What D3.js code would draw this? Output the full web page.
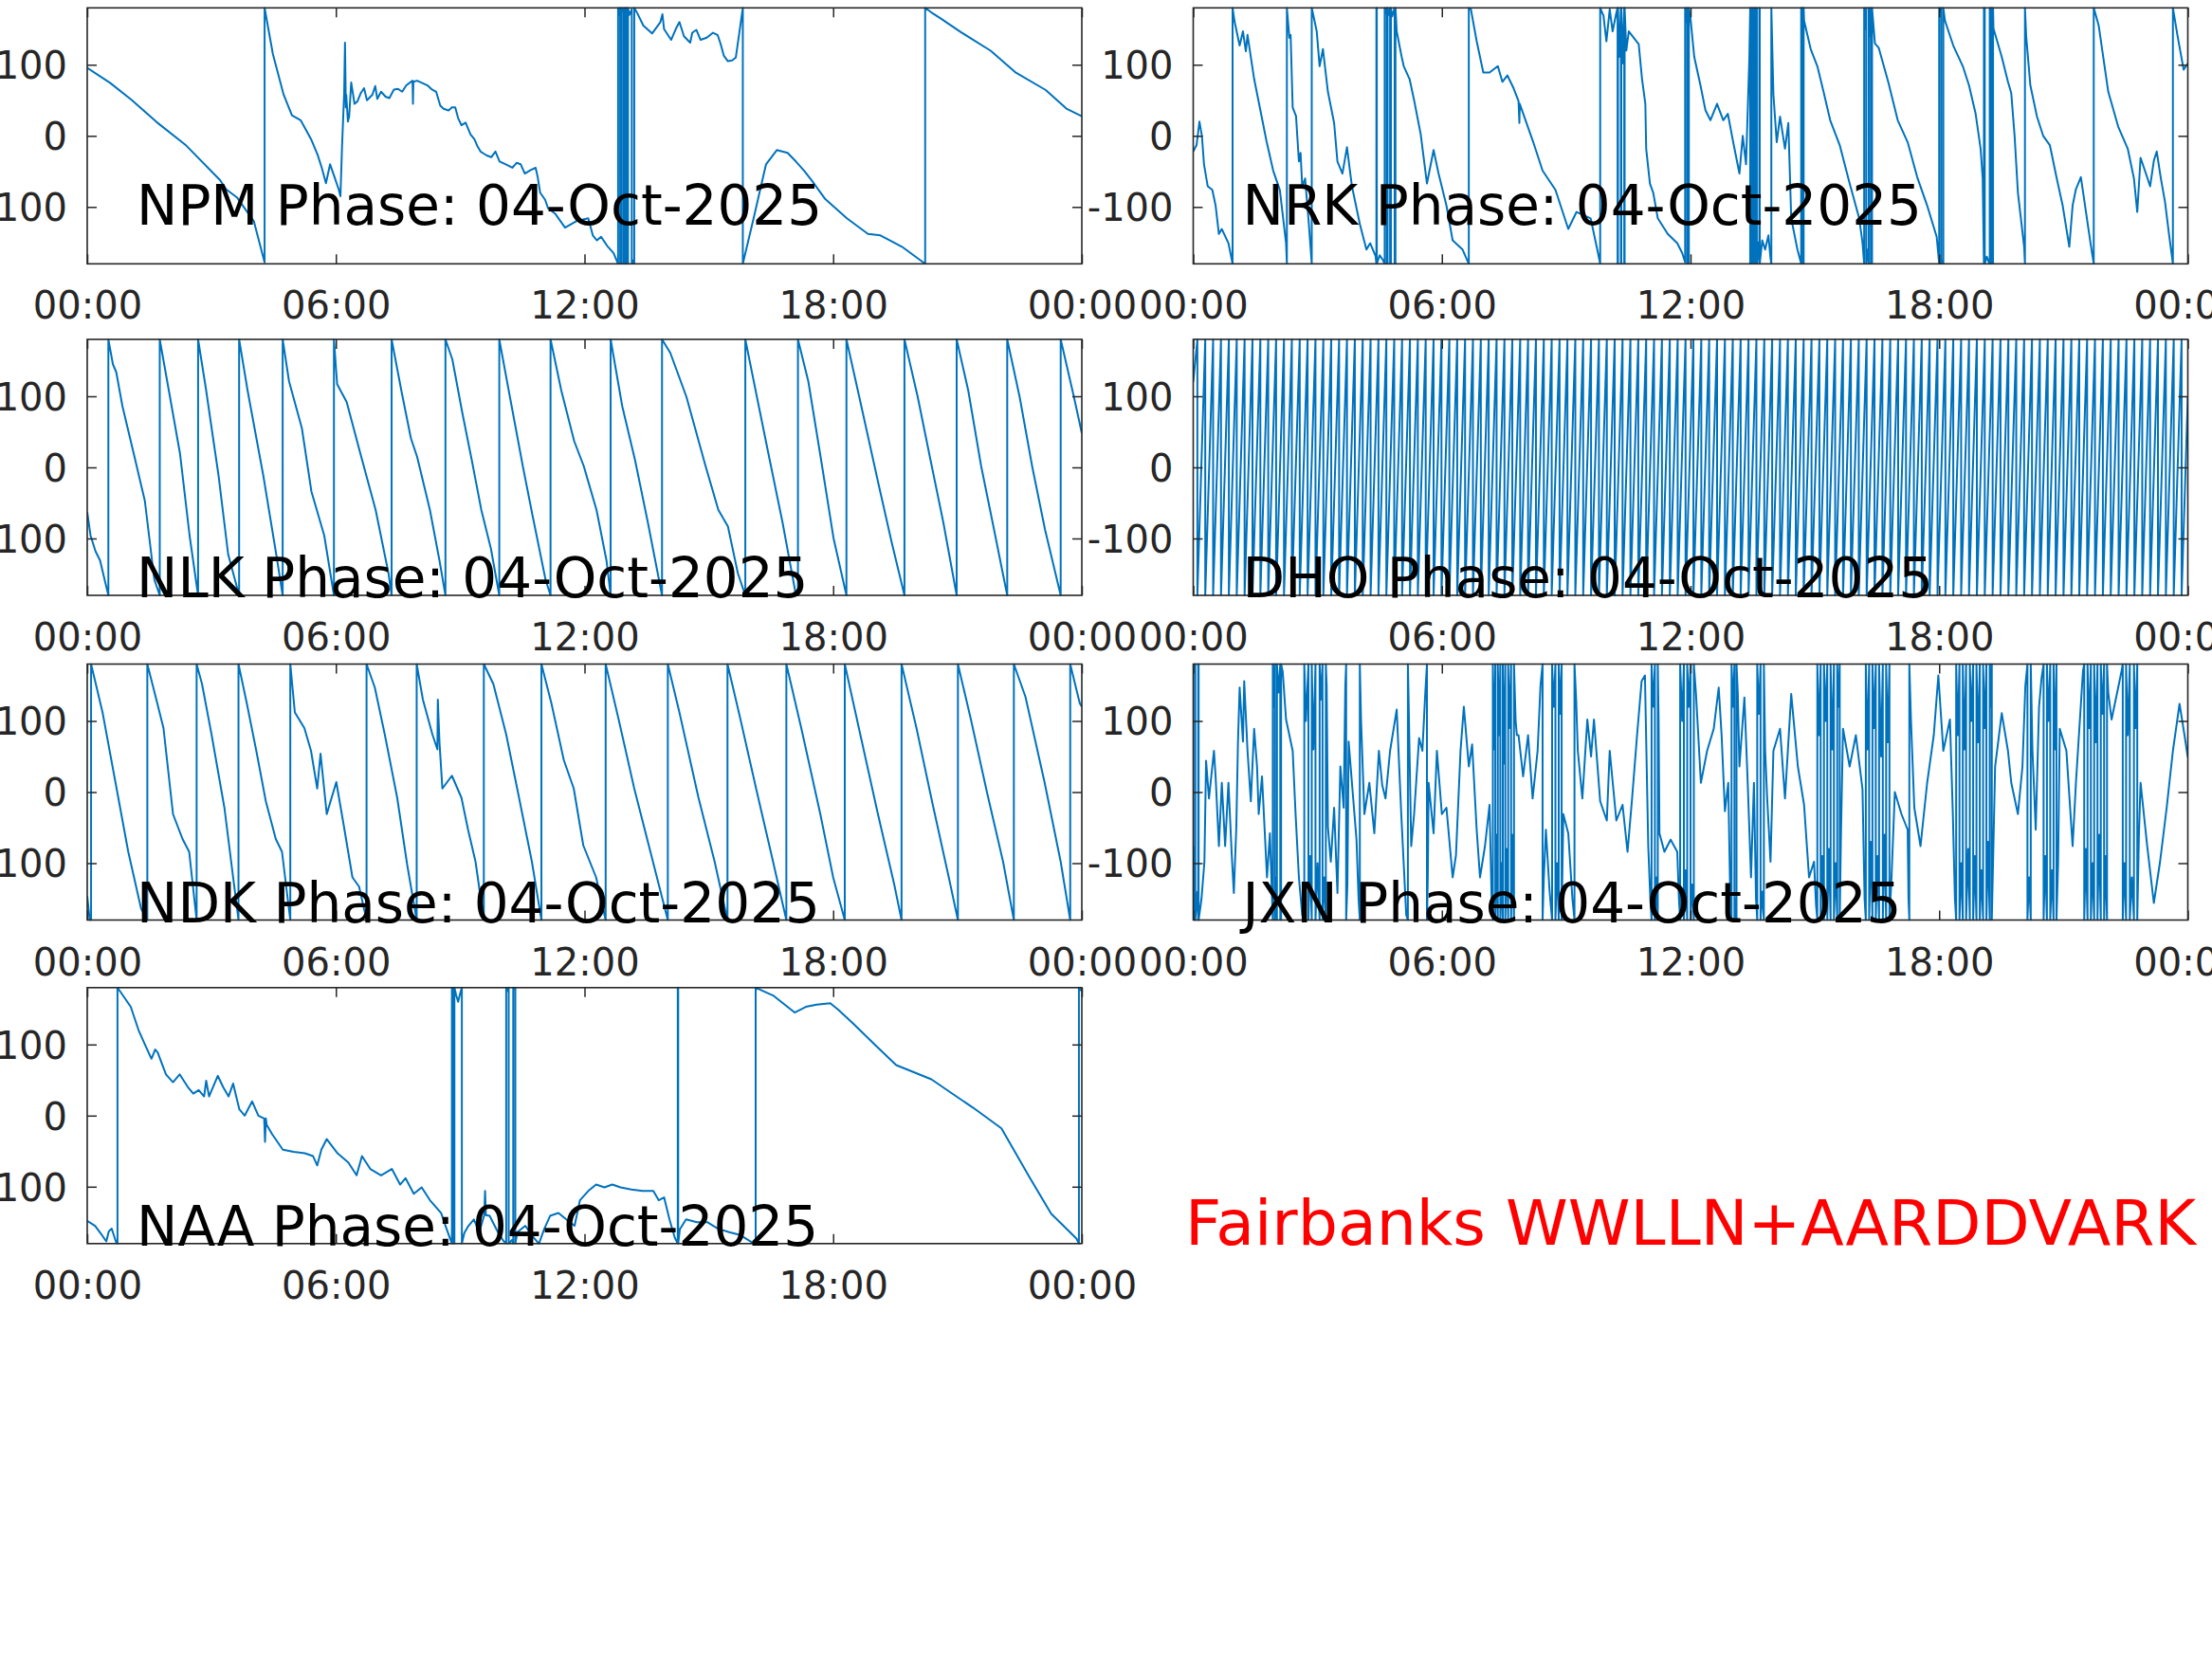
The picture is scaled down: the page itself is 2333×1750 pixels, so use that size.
<!DOCTYPE html>
<html><head><meta charset="utf-8">
<script src="https://cdn.jsdelivr.net/npm/d3@7"></script>
<style>
body{margin:0;background:#fff}
svg{display:block}
text{font-family:"DejaVu Sans",sans-serif}
</style></head>
<body><svg id="chart" width="2333" height="1750"></svg>
<script>
// ---------------- data ----------------
const xTickHours = [0, 6, 12, 18, 24];
const xTickLabels = ["00:00", "06:00", "12:00", "18:00", "00:00"];
const yTickValues = [-100, 0, 100];
const yTickLabels = ["-100", "0", "100"];
const dateLabel = "04-Oct-2025";
const footerText = "Fairbanks WWLLN+AARDDVARK";

// [hour, phase (deg)]
const NPM = [[0,95.5],[0.55,74.6],[1.06,51],[1.67,19.6],[2.39,-13.7],[3.2,-62],[3.36,-75.6],[3.62,-87],[4.02,-120],[4.28,-178],[4.28,180],
[4.48,115],[4.74,57.8],[4.94,28.8],[5.15,22],[5.4,-4.5],[5.56,-26.7],[5.66,-45],[5.76,-66.7],[5.86,-40],[5.95,-55],[6.07,-75.6],[6.11,-84.9],[6.15,-13],[6.2,60],[6.22,131],[6.24,40],[6.25,57.8],[6.29,20],[6.32,27],[6.37,75],[6.45,45],[6.52,48.5],[6.6,60],[6.68,67],[6.75,50],[6.88,57.8],[6.95,70],[7.0,52],[7.09,62],[7.2,55],[7.29,53],[7.4,65],[7.5,66],[7.6,62],[7.7,71],[7.85,77.6],[7.86,45],[7.87,76],[7.96,77.6],[8.1,74],[8.21,71],[8.3,66],[8.42,62],[8.52,42.4],[8.6,38],[8.72,35.7],[8.8,40],[8.88,40],[8.95,25],[9.03,15],[9.13,18.6],[9.25,2],[9.34,-4.5],[9.42,-15],[9.49,-22],[9.64,-27.6],[9.75,-30],[9.85,-22],[9.95,-36],[10.1,-40],[10.26,-44.9],[10.36,-38],[10.46,-40],[10.56,-53],[10.7,-48],[10.82,-44.9],[10.87,-58],[10.93,-80],[11.05,-90],[11.12,-102],[11.3,-110],[11.53,-129],[11.8,-120],[12.09,-116],[12.2,-140],[12.3,-147],[12.4,-142],[12.55,-155],[12.7,-164.8],[12.81,-180],
[12.81,180],[12.84,170],[12.86,180],[12.86,-180],[12.88,-175],[12.9,-180],[12.9,180],[12.93,175],[12.95,180],[12.95,-180],[12.97,-170],[12.99,-180],[12.99,180],[13.01,172],[13.02,180],[13.02,-180],[13.04,-178],[13.05,-180],[13.05,180],[13.08,170],[13.14,178],[13.14,-180],[13.16,-175],[13.2,-180],[13.2,180],
[13.27,172.9],[13.42,155],[13.63,144],[13.83,160],[13.88,171],[13.92,150],[14.09,135],[14.2,150],[14.29,160],[14.4,140],[14.55,131],[14.6,145],[14.7,149],[14.8,135],[14.95,138],[15.1,145],[15.21,142],[15.28,130],[15.36,113],[15.46,105],[15.56,106],[15.65,110],[15.82,180],[15.82,-180],
[16.08,-116],[16.38,-40],[16.64,-20],[16.9,-24],[17.1,-36],[17.3,-49],[17.5,-64],[17.81,-89],[18.33,-116],[18.84,-138],[19.14,-140],[19.66,-156],[20.22,-180],[20.22,180],[20.36,174],[20.6,165],[21.08,146],[21.8,119.7],[22.41,88.8],[23.13,64.4],[23.64,37.8],[24,27.5]];

const NRK = [[0,-22],[0.08,-13],[0.15,20],[0.21,0],[0.26,-40],[0.35,-71],[0.46,-76],[0.54,-98],[0.62,-138],[0.69,-131],[0.85,-151],[0.95,-180],[0.95,180],[1.0,160],[1.12,127],[1.2,147],[1.27,119],[1.31,142],[1.47,80],[1.62,36],[1.77,-8],[1.93,-49],[2.09,-76],[2.24,-151],[2.26,-180],[2.26,180],[2.32,138],[2.35,142],[2.4,40],[2.48,28],[2.55,-36],[2.59,-24],[2.63,-71],[2.7,-60],[2.78,-116],[2.86,-180],[2.86,180],[2.98,147],[3.05,98],[3.13,122],[3.25,62],[3.4,18],[3.48,-36],[3.6,-53],[3.71,-16],[3.83,-71],[4.02,-124],[4.18,-160],[4.27,-151],[4.4,-169],
[4.42,-180],[4.42,180],[4.43,180],[4.43,-180],[4.5,-168],[4.58,-175],[4.62,-180],[4.62,180],[4.65,172],[4.67,180],[4.67,-180],[4.69,-180],[4.69,180],[4.72,170],[4.75,180],[4.75,-180],[4.77,-180],[4.77,180],[4.8,168],[4.84,176],[4.86,180],[4.86,-180],[4.88,-180],[4.88,180],
[4.91,147],[5.03,111],[5.08,98],[5.22,80],[5.33,50],[5.49,2],[5.64,-67],[5.8,-20],[5.92,-53],[6.11,-98],[6.26,-147],[6.5,-160],[6.65,-180],[6.65,180],[6.7,178],[6.84,133],[7.0,89],[7.15,89],[7.35,98],[7.46,76],[7.58,85],[7.73,67],[7.85,49],[7.87,18],[7.88,45],[8.2,-8],[8.43,-49],[8.74,-76],[9.05,-131],[9.25,-107],[9.59,-116],[9.75,-160],[9.82,-180],
[9.82,180],[9.9,169],[9.97,133],[10.05,178],[10.12,147],[10.2,170],[10.24,180],[10.24,-180],[10.25,-180],[10.25,180],[10.28,111],[10.32,180],[10.32,-180],[10.33,-180],[10.33,180],[10.37,102],[10.4,180],[10.4,-180],[10.41,-180],[10.41,180],[10.45,120],
[10.51,147],[10.75,129],[10.83,80],[10.91,45],[10.93,-18],[11.02,-67],[11.1,-80],[11.21,-116],[11.45,-138],[11.68,-151],[11.8,-165],[11.87,-178],[11.87,180],[11.9,160],[11.92,180],[11.92,-180],[11.94,-170],[11.96,-180],[11.96,180],[12.0,165],
[12.09,111],[12.24,71],[12.36,36],[12.48,22],[12.64,45],[12.79,22],[12.9,31],[13.03,-9],[13.18,-53],[13.26,0],[13.34,-40],[13.42,111],[13.44,180],[13.44,-180],[13.46,-150],[13.48,-180],[13.48,180],[13.5,120],[13.52,180],[13.52,-180],[13.54,-160],[13.56,-180],[13.56,180],[13.58,100],[13.6,180],[13.6,-180],[13.63,-150],[13.66,-180],[13.66,180],[13.67,180],[13.67,-180],[13.73,-147],[13.8,-160],[13.88,-140],[13.93,-172],[13.95,-180],[13.95,180],
[14.0,58],[14.08,-9],[14.16,27],[14.28,-18],[14.36,18],[14.43,-116],[14.58,-160],[14.67,-180],[14.67,180],[14.69,170],[14.7,180],[14.7,-180],[14.72,-175],[14.73,-180],[14.73,180],[14.74,162],[14.9,122],[15.06,98],[15.21,62],[15.37,22],[15.6,-13],[15.84,-67],[16.07,-116],[16.15,-150],[16.19,-180],[16.19,180],[16.22,150],[16.24,180],[16.24,-180],[16.27,-160],[16.3,-180],[16.3,180],[16.33,140],[16.35,180],[16.35,-180],[16.37,-170],[16.38,-180],[16.38,180],
[16.45,130],[16.54,124],[16.77,76],[17.0,22],[17.24,-9],[17.47,-58],[17.71,-98],[17.94,-142],[18.0,-180],[18.0,180],[18.03,175],[18.05,180],[18.05,-180],[18.08,-175],[18.1,-180],[18.1,180],[18.14,162],[18.34,127],[18.57,98],[18.72,71],[18.88,31],[19.0,-18],[19.05,-60],[19.08,-180],[19.08,180],[19.1,180],[19.1,-180],[19.15,-170],[19.2,-178],[19.22,-180],[19.22,180],[19.24,175],[19.26,180],[19.26,-180],[19.28,-175],[19.3,-180],[19.3,180],
[19.31,151],[19.51,111],[19.66,76],[19.74,60],[19.82,0],[19.9,-80],[19.96,-110],[20.05,-156],[20.07,-180],[20.07,180],[20.1,140],[20.2,71],[20.36,27],[20.51,0],[20.67,-13],[20.83,-58],[20.98,-98],[21.14,-156],[21.22,-98],[21.3,-75],[21.42,-58],[21.53,-102],[21.65,-150],[21.73,-180],[21.73,180],[21.85,155],[22.08,62],[22.32,13],[22.55,-18],[22.7,-60],[22.78,-107],[22.86,-31],[23.0,-55],[23.09,-71],[23.18,-35],[23.25,-22],[23.35,-60],[23.45,-93],[23.55,-140],[23.64,-180],[23.64,180],[23.76,138],[23.9,93],[24,102]];

const NLK = [[0,-62.7],[0.08,-96],[0.2,-118],[0.31,-131],[0.42,-158],[0.51,-180],[0.51,180],
[0.62,145],[0.7,134],[0.85,86],[1.16,10],[1.39,-47],[1.62,-158],[1.75,-180],[1.75,180],
[1.93,121],[2.24,19],[2.47,-96],[2.675,-180],[2.675,180],
[2.86,112],[3.17,-12],[3.4,-122],[3.665,-180],[3.665,180],
[3.87,108],[4.25,-12],[4.56,-122],[4.716,-180],[4.716,180],
[4.87,121],[5.18,55],[5.41,-34],[5.72,-96],[5.953,-180],[5.953,180],
[6.03,117],[6.26,92],[6.57,24],[6.96,-60],[7.27,-149],[7.345,-180],[7.345,180],
[7.58,108],[7.81,41],[7.96,15],[8.27,-60],[8.5,-131],[8.644,-180],[8.644,180],
[8.81,152],[9.05,77],[9.28,10],[9.51,-60],[9.74,-114],[9.943,-180],[9.943,180],
[10.2,99],[10.51,2],[10.75,-69],[11.06,-158],[11.18,-180],[11.18,180],
[11.44,108],[11.75,37],[11.98,2],[12.29,-60],[12.53,-131],[12.63,-180],[12.63,180],
[12.91,86],[13.22,10],[13.53,-78],[13.87,-180],[13.87,180],
[14.07,161],[14.46,99],[14.92,2],[15.23,-60],[15.46,-83],[15.7,-149],[15.88,-180],[15.88,180],
[16.16,99],[16.47,10],[16.78,-78],[17.09,-176],[17.15,-180],[17.15,180],
[17.4,121],[17.71,10],[18.01,-100],[18.32,-180],[18.32,180],
[18.63,99],[19.1,-25],[19.41,-105],[19.72,-180],[19.72,180],
[20.04,99],[20.35,10],[20.66,-78],[20.98,-180],[20.98,180],
[21.26,108],[21.57,2],[21.88,-87],[22.2,-180],[22.2,180],
[22.5,99],[22.8,2],[23.11,-87],[23.49,-180],[23.49,180],
[23.81,99],[24,48]];

const NDK = [[0,-146],[0.06,-180],[0.093,-180],[0.093,180],
[0.37,112],[0.68,14],[0.99,-84],[1.3,-164],[1.45,-180],[1.45,180],
[1.69,125],[1.84,90],[2.07,-31],[2.3,-66],[2.46,-84],[2.64,-180],[2.64,180],
[2.77,152],[3.0,81],[3.31,-22],[3.65,-180],[3.65,180],
[3.85,125],[4.08,58],[4.31,-13],[4.55,-66],[4.7,-84],[4.9,-180],[4.9,180],
[5.01,112],[5.24,90],[5.4,58],[5.55,5],[5.63,54],[5.78,-31],[6.01,14],[6.17,-40],[6.4,-120],[6.56,-133],[6.74,-180],[6.74,180],
[6.94,147],[7.18,81],[7.48,-8],[7.72,-102],[7.95,-180],[7.95,180],
[8.1,130],[8.33,81],[8.45,60],[8.46,130],[8.5,70],[8.57,5],[8.8,23],[9.03,-8],[9.19,-53],[9.37,-98],[9.57,-180],[9.57,180],
[9.8,152],[10.11,81],[10.42,-8],[10.73,-98],[10.96,-180],[10.96,180],
[11.2,125],[11.5,45],[11.74,5],[11.97,-75],[12.28,-120],[12.51,-180],[12.51,180],
[12.82,103],[13.2,5],[13.59,-84],[14.01,-180],[14.01,180],
[14.29,112],[14.75,-8],[15.14,-98],[15.45,-180],[15.45,180],
[15.76,103],[16.14,5],[16.53,-93],[16.87,-180],[16.87,180],
[17.23,90],[17.69,-31],[18.0,-120],[18.28,-180],[18.28,180],
[18.62,90],[19.08,-31],[19.47,-129],[19.65,-180],[19.65,180],
[20.01,90],[20.4,-17],[20.79,-120],[21.01,-180],[21.01,180],
[21.32,103],[21.71,0],[22.1,-98],[22.36,-180],[22.36,180],
[22.64,134],[23.1,14],[23.49,-98],[23.72,-180],[23.72,180],
[23.95,125],[24,120]];

// DHO: times (h) at which the rising phase wraps from +180 back to -180
const DHO_WRAPS = [0.10,0.29,0.48,0.67,0.86,1.05,1.24,1.43,1.62,1.81,2.00,2.19,2.38,2.57,2.76,2.95,3.14,3.33,3.52,3.71,3.90,4.09,4.28,4.47,4.66,4.85,5.04,5.23,5.42,5.61,5.80,5.99,6.18,6.37,6.56,6.75,6.94,7.13,7.32,7.51,7.70,7.89,8.08,8.27,8.46,8.65,8.84,9.03,9.22,9.41,9.60,9.79,9.98,10.17,10.36,10.55,10.74,10.93,11.12,11.31,11.50,11.69,11.88,12.07,12.26,12.45,12.64,12.83,13.02,13.21,13.40,13.59,13.78,13.97,14.16,14.35,14.54,14.73,14.92,15.11,15.30,15.49,15.68,15.87,16.06,16.25,16.44,16.63,16.82,17.01,17.20,17.39,17.58,17.77,17.96,18.15,18.34,18.53,18.72,18.91,19.10,19.29,19.48,19.67,19.86,20.05,20.24,20.43,20.62,20.81,21.00,21.19,21.38,21.57,21.76,21.95,22.14,22.33,22.52,22.71,22.90,23.09,23.28,23.47,23.66,23.85];
const DHO_START_PHASE = 120;
const DHO_END_PHASE = 100;

const JXN = [[0,-76],[0.04,-180],[0.04,180],[0.05,180],[0.05,-180],[0.1,-140],[0.12,-180],[0.12,180],[0.13,180],[0.13,-180],[0.2,-150],[0.27,-98],[0.31,44],[0.38,-9],[0.5,58],[0.54,22],[0.62,-76],[0.69,13],[0.77,-76],[0.85,13],[0.93,-89],[0.98,-142],[1.04,-49],[1.08,71],[1.12,147],[1.2,71],[1.23,156],[1.31,58],[1.39,-13],[1.47,89],[1.54,36],[1.58,-31],[1.66,22],[1.78,-120],[1.85,-58],[1.92,-180],[1.92,180],[1.94,120],[1.97,180],[1.97,-180],[2.0,-120],[2.02,-180],[2.02,180],[2.06,140],[2.1,180],[2.1,-180],[2.12,-180],[2.12,180],[2.16,169],[2.24,102],[2.4,58],[2.47,-31],[2.55,-120],[2.63,-173],[2.68,-180],[2.68,180],[2.72,100],[2.78,180],[2.78,-180],[2.82,-90],[2.86,-180],[2.86,180],[2.9,60],[2.95,180],[2.95,-180],[3.0,-100],[3.05,-180],[3.05,180],[3.08,130],[3.12,180],[3.12,-180],[3.16,-120],[3.2,-180],[3.2,180],[3.22,150],[3.25,-49],
[3.32,-98],[3.4,-22],[3.48,-142],[3.55,36],[3.63,-22],[3.67,150],[3.69,180],[3.69,-180],[3.72,-130],[3.75,71],[3.86,-9],[3.94,-67],[3.99,-150],[4.02,-180],[4.02,180],[4.05,100],[4.13,-31],[4.25,13],[4.37,-58],[4.48,58],[4.56,10],[4.64,-9],[4.75,58],[4.91,116],[5.02,-31],[5.14,-173],[5.18,-180],[5.18,180],[5.2,120],[5.26,-76],
[5.33,-31],[5.45,76],[5.53,58],[5.6,140],[5.64,180],[5.64,-180],[5.66,-120],[5.68,13],[5.8,-58],[5.88,58],[6.0,-31],[6.11,-22],[6.26,-120],[6.34,-89],[6.45,58],[6.53,120],[6.65,36],[6.73,67],[6.84,-53],[6.92,-120],[7.04,-76],[7.15,-18],[7.2,-150],[7.23,-180],[7.23,180],[7.26,60],[7.29,180],[7.29,-180],[7.32,-60],[7.35,-180],[7.35,180],[7.38,80],[7.41,180],[7.41,-180],[7.44,-100],[7.47,-180],[7.47,180],[7.5,40],[7.53,180],[7.53,-180],[7.56,-80],[7.6,-180],[7.6,180],[7.63,90],[7.67,180],[7.67,-180],[7.7,-60],[7.74,-180],[7.74,180],[7.78,100],[7.81,80],[7.85,80],[7.96,22],[8.08,80],[8.19,-9],[8.31,58],[8.38,150],[8.43,180],[8.43,-180],[8.46,-120],[8.51,-53],[8.6,-140],[8.66,-180],[8.66,180],[8.7,120],[8.74,180],[8.74,-180],[8.78,-100],[8.82,-180],[8.82,180],[8.86,110],[8.89,180],[8.89,-180],[8.93,-31],[9.05,-58],[9.15,-150],[9.2,-180],[9.2,180],[9.24,130],[9.28,58],[9.39,-9],[9.51,102],[9.6,50],[9.67,102],[9.82,-13],[9.98,-40],[10.05,58],[10.21,-40],[10.36,-18],[10.48,-84],[10.59,-9],[10.71,80],[10.82,156],[10.9,164],[10.98,-76],[11.03,-150],[11.06,-180],[11.06,180],[11.1,120],[11.14,180],[11.14,-180],[11.18,-120],[11.21,-180],[11.21,180],[11.23,100],[11.25,-58],[11.37,-84],[11.52,-67],[11.68,-84],[11.72,-150],[11.75,-180],[11.75,180],[11.8,100],[11.84,180],[11.84,-180],[11.88,-110],[11.92,-180],[11.92,180],[11.96,120],[12.0,180],[12.0,-180],[12.04,-130],[12.08,-180],[12.08,180],[12.13,140],[12.25,13],[12.4,58],[12.56,89],[12.68,147],[12.75,80],[12.83,-27],[12.91,13],[12.96,-150],[12.99,-180],[12.99,180],[13.03,120],[13.06,180],[13.06,-180],[13.09,-150],[13.11,-180],[13.11,180],[13.14,140],[13.18,36],[13.3,133],[13.38,13],[13.46,-120],[13.53,13],[13.58,-150],[13.61,-180],[13.61,180],[13.65,110],[13.69,180],[13.69,-180],[13.73,-140],[13.77,-180],[13.77,180],[13.8,60],[13.85,-9],[13.93,-98],[14.0,58],[14.16,89],[14.28,-9],[14.43,138],[14.59,36],[14.74,-18],[14.86,-120],[14.98,-98],[15.03,-160],[15.06,-180],[15.06,180],[15.1,80],[15.14,180],[15.14,-180],[15.18,-90],[15.22,-180],[15.22,180],[15.26,100],[15.3,180],[15.3,-180],[15.34,-80],[15.38,-180],[15.38,180],[15.42,60],[15.46,180],[15.46,-180],[15.5,-100],[15.54,-180],[15.54,180],[15.57,120],[15.6,180],[15.6,-180],[15.63,-60],[15.68,89],[15.84,36],[15.99,80],[16.15,4],[16.2,-150],[16.23,-180],[16.23,180],[16.27,60],[16.31,180],[16.31,-180],[16.35,-70],[16.39,-180],[16.39,180],[16.43,90],[16.47,180],[16.47,-180],[16.51,-90],[16.55,-180],[16.55,180],[16.6,50],[16.64,180],[16.64,-180],[16.68,-60],[16.72,-180],[16.72,180],[16.76,70],[16.8,180],[16.8,-180],[16.85,-120],[16.93,0],[17.09,-31],[17.24,-53],[17.26,-150],[17.28,-180],[17.28,180],[17.32,100],[17.4,-22],[17.55,-76],[17.71,13],[17.87,80],[17.98,164],[18.1,58],[18.26,102],[18.33,-31],[18.38,-150],[18.41,-180],[18.41,180],[18.45,80],[18.49,180],[18.49,-180],[18.53,-100],[18.57,-180],[18.57,180],[18.61,60],[18.65,180],[18.65,-180],[18.7,-80],[18.74,-180],[18.74,180],[18.78,100],[18.82,180],[18.82,-180],[18.86,-90],[18.9,-180],[18.9,180],[18.94,70],[18.98,180],[18.98,-180],[19.02,-110],[19.06,-180],[19.06,180],[19.1,90],[19.14,180],[19.14,-180],[19.18,-70],[19.22,-180],[19.22,180],[19.25,120],[19.27,180],[19.27,-180],
[19.35,36],[19.51,111],[19.66,58],[19.74,13],[19.9,-31],[20.01,36],[20.08,150],[20.13,180],[20.13,-180],[20.17,-120],[20.21,-180],[20.21,180],[20.25,60],[20.33,-53],[20.41,120],[20.47,160],[20.52,180],[20.52,-180],[20.56,-90],[20.6,-180],[20.6,180],[20.64,100],[20.68,180],[20.68,-180],[20.72,-110],[20.76,-180],[20.76,180],[20.8,60],[20.83,180],[20.83,-180],[20.87,-100],[20.91,89],[21.07,58],[21.22,-76],[21.3,13],[21.42,124],[21.47,170],[21.5,180],[21.5,-180],[21.54,-80],[21.58,-180],[21.58,180],[21.62,90],[21.66,180],[21.66,-180],[21.7,-100],[21.74,-180],[21.74,180],[21.78,70],[21.82,180],[21.82,-180],[21.86,-60],[21.9,-180],[21.9,180],[21.94,110],[21.98,180],[21.98,-180],[22.02,-90],[22.05,-180],[22.05,180],[22.08,140],[22.16,102],[22.32,147],[22.4,170],[22.43,180],[22.43,-180],[22.47,-100],[22.51,-180],[22.51,180],[22.55,80],[22.6,180],[22.6,-180],[22.65,-120],[22.7,-180],[22.7,180],[22.74,90],[22.78,180],[22.78,-180],[22.82,-60],[22.86,13],[23.02,-76],[23.18,-156],[23.33,-98],[23.49,-22],[23.64,58],[23.8,124],[23.92,80],[24,49]];

const NAA = [[0,-148],[0.19,-155],[0.33,-166],[0.46,-177],[0.52,-163],[0.59,-159],[0.69,-177],[0.73,-180],[0.73,180],[1.05,153],[1.24,120],[1.44,94],[1.55,80],[1.64,93],[1.7,89],[1.9,58],[2.07,47],[2.23,58],[2.43,40],[2.56,31],[2.69,36],[2.82,27],[2.87,49],[2.94,27],[3.15,56],[3.28,40],[3.41,27],[3.52,45],[3.67,9],[3.8,0],[3.98,20],[4.13,0],[4.27,-4],[4.29,-37],[4.31,-4],[4.33,-13],[4.46,-26],[4.72,-48],[4.98,-51],[5.25,-53],[5.45,-57],[5.55,-70],[5.65,-48],[5.78,-33],[6.04,-53],[6.3,-66],[6.5,-84],[6.63,-57],[6.83,-75],[7.09,-84],[7.35,-75],[7.55,-97],[7.68,-88],[7.88,-110],[8.07,-101],[8.27,-119],[8.54,-137],[8.67,-159],[8.8,-180],
[8.8,180],[8.82,175],[8.84,180],[8.84,-180],[8.86,-180],[8.86,180],[8.9,170],[8.95,160],[9.0,172],[9.04,180],[9.04,-180],[9.1,-165],[9.2,-155],[9.33,-146],[9.46,-164],[9.58,-140],[9.6,-106],[9.62,-140],[9.71,-141],[9.91,-164],[10.04,-176],[10.11,-180],
[10.11,180],[10.15,175],[10.17,180],[10.17,-180],[10.25,-175],[10.28,-180],[10.28,180],[10.3,178],[10.33,180],[10.33,-180],[10.38,-164],[10.57,-155],[10.75,-170],[10.9,-180],[11.03,-159],[11.17,-141],[11.37,-137],[11.56,-146],[11.76,-155],[11.89,-119],[12.09,-106],[12.28,-97],[12.48,-101],[12.67,-97],[12.87,-101],[13.13,-104],[13.4,-106],[13.66,-106],[13.79,-119],[13.92,-115],[14.05,-146],[14.18,-172],[14.25,-180],[14.25,180],[14.26,180],[14.26,-180],[14.3,-160],[14.45,-146],[14.71,-150],[14.97,-150],[15.22,-159],[15.49,-164],[15.76,-168],[16.09,-180],[16.13,-180],[16.13,180],[16.55,169],[16.94,151],[17.07,145],[17.34,153],[17.6,156],[17.93,158],[18.12,149],[18.49,129],[19.0,100],[19.52,71],[20.37,51],[20.87,31],[21.38,11],[22.06,-18],[22.75,-88],[23.26,-138],[23.87,-173],[23.93,-180],[23.93,180],[24,175]];

// --------------- build DHO series from its wrap times ---------------
const DHO = [];
DHO.push([0, DHO_START_PHASE]);
DHO_WRAPS.forEach(t => { DHO.push([t, 180]); DHO.push([t, -180]); });
DHO.push([24, DHO_END_PHASE]);

const panels = [
  {name:"NPM", data:NPM, col:0, row:0},
  {name:"NRK", data:NRK, col:1, row:0},
  {name:"NLK", data:NLK, col:0, row:1},
  {name:"DHO", data:DHO, col:1, row:1},
  {name:"NDK", data:NDK, col:0, row:2},
  {name:"JXN", data:JXN, col:1, row:2},
  {name:"NAA", data:NAA, col:0, row:3}
];

// --------------- layout ---------------
const colX = [92, 1258.5];
const rowY = [8.3, 358, 700.5, 1041.8];
const W = 1049, H = 270;
const axisColor = "#262626";
const lineColor = "#0072BD";

const svg = d3.select("#chart");
svg.append("rect").attr("width",2333).attr("height",1750).attr("fill","#fff");
const defs = svg.append("defs");

panels.forEach((p, i) => {
  const x0 = colX[p.col], y0 = rowY[p.row];
  const x = d3.scaleLinear().domain([0, 24]).range([0, W]);
  const y = d3.scaleLinear().domain([-180, 180]).range([H, 0]);
  const g = svg.append("g").attr("transform", `translate(${x0},${y0})`);

  defs.append("clipPath").attr("id", "clip" + i)
    .append("rect").attr("x", 0).attr("y", -1).attr("width", W).attr("height", H + 2);

  const line = d3.line().x(d => x(d[0])).y(d => y(d[1]));
  g.append("path").datum(p.data)
    .attr("clip-path", `url(#clip${i})`)
    .attr("d", line)
    .attr("fill", "none")
    .attr("stroke", lineColor)
    .attr("stroke-width", 2)
    .attr("stroke-linejoin", "round");

  // axes (ticks point inward)
  const fmtX = (d) => xTickLabels[xTickHours.indexOf(d)];
  const fmtY = (d) => yTickLabels[yTickValues.indexOf(d)];
  const xb = g.append("g").attr("transform", `translate(0,${H})`)
    .call(d3.axisBottom(x).tickValues(xTickHours).tickFormat(fmtX).tickSize(-10).tickSizeOuter(0));
  xb.selectAll("text").attr("y", 58).attr("dy", null);
  const xt = g.append("g")
    .call(d3.axisTop(x).tickValues(xTickHours).tickFormat("").tickSize(-10).tickSizeOuter(0));
  const yl = g.append("g")
    .call(d3.axisLeft(y).tickValues(yTickValues).tickFormat(fmtY).tickSize(-10).tickSizeOuter(0));
  yl.selectAll("text").attr("x", -21).attr("dy", "0.36em");
  const yr = g.append("g").attr("transform", `translate(${W},0)`)
    .call(d3.axisRight(y).tickValues(yTickValues).tickFormat("").tickSize(-10).tickSizeOuter(0));

  [xb, xt, yl, yr].forEach(a => {
    a.select(".domain").remove();
    a.selectAll("line").attr("stroke", axisColor).attr("stroke-width", 1.5);
    a.selectAll("text").attr("fill", axisColor).style("font-size", "40px")
      .style("font-family", '"DejaVu Sans", sans-serif');
  });
  xb.selectAll("text").attr("text-anchor", "middle");

  g.append("rect").attr("x", 0).attr("y", 0).attr("width", W).attr("height", H)
    .attr("fill", "none").attr("stroke", axisColor).attr("stroke-width", 1.6);

  // panel title
  const baseline = p.row === 0 ? 229 : 272;
  g.append("text").attr("x", 52).attr("y", baseline)
    .attr("fill", "#000").style("font-size", "58px")
    .text(`${p.name} Phase: ${dateLabel}`);
});

svg.append("text").attr("x", 1250).attr("y", 1313)
  .attr("fill", "#FF0000").style("font-size", "66.5px")
  .text(footerText);
</script>
</body></html>
